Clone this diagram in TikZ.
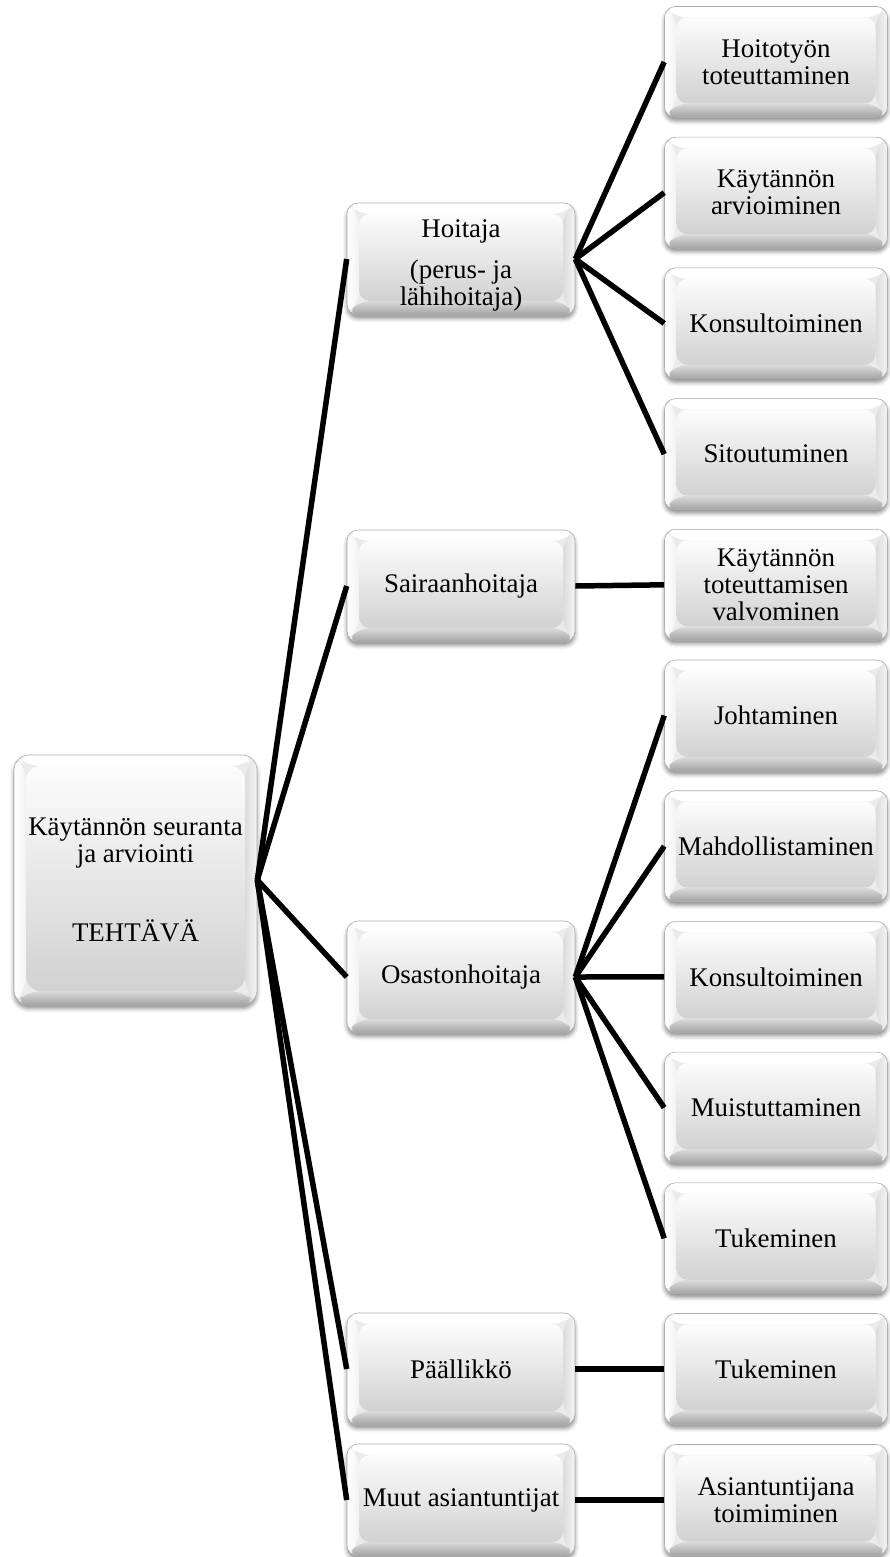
\documentclass[tikz,border=0pt]{standalone}
\usepackage{fontspec}
\setmainfont{Liberation Serif}
\usetikzlibrary{shadows.blur}

% Bevelled face drawn inside every box
\newcommand\bevelfaces{%
  \path (path picture bounding box.north west) coordinate (bNW)
        (path picture bounding box.north east) coordinate (bNE)
        (path picture bounding box.south west) coordinate (bSW)
        (path picture bounding box.south east) coordinate (bSE);
  \path ([shift={(12pt,-11pt)}]bNW) coordinate (iNW)
        ([shift={(-12pt,-11pt)}]bNE) coordinate (iNE)
        ([shift={(12pt,14pt)}]bSW) coordinate (iSW)
        ([shift={(-12pt,14pt)}]bSE) coordinate (iSE);
  \fill[white] (bNW) -- (bNE) -- (iNE) -- (iNW) -- cycle;
  \shade[left color=white, right color=black!5] (bNW) -- (iNW) -- (iSW) -- (bSW) -- cycle;
  \shade[left color=black!14, right color=black!4] (bNE) -- (bSE) -- (iSE) -- (iNE) -- cycle;
  \shade[top color=black!14, bottom color=black!36] (bSW) -- (iSW) -- (iSE) -- (bSE) -- cycle;
  \shade[top color=black!1, bottom color=black!18] (iNW) rectangle (iSE);
}

\begin{document}
\begin{tikzpicture}[x=1pt,y=-1pt,
  box/.style={rectangle, rounded corners=11pt, inner sep=2pt, align=center,
    font=\fontsize{26.9}{27}\selectfont,
    draw=black!32, line width=0.6pt, fill=black!8,
    blur shadow={shadow xshift=0pt, shadow yshift=-3.5pt,
                 shadow blur radius=4pt, shadow opacity=45},
    path picture={\bevelfaces}},
  rootbox/.style={box, rounded corners=15pt, minimum width=243pt, minimum height=250pt},
  midbox/.style={box, minimum width=228pt, minimum height=112pt},
  leafbox/.style={box, minimum width=223pt, minimum height=111pt},
  link/.style={line width=5.5pt, black},
]
\useasboundingbox (0,0) rectangle (889,1557);

% root
\node[rootbox] (root) at (135.5,880)
  {K\"ayt\"ann\"on seuranta\\ja arviointi\\[50pt]TEHT\"AV\"A};

% roles
\node[midbox] (hoitaja) at (461,259)
  {\raisebox{-7pt}[\height][\depth]{\begin{tabular}{@{}c@{}}Hoitaja\\[14pt](perus- ja\\l\"ahihoitaja)\end{tabular}}};
\node[midbox] (sairaan) at (461,586) {Sairaanhoitaja};
\node[midbox] (osaston) at (461,977) {Osastonhoitaja};
\node[midbox] (paallikko) at (461,1369) {P\"a\"allikk\"o};
\node[midbox] (muut) at (461,1500) {Muut asiantuntijat};

% tasks
\node[leafbox] (t1) at (776,62) {Hoitoty\"on\\toteuttaminen};
\node[leafbox] (t2) at (776,192.7) {K\"ayt\"ann\"on\\arvioiminen};
\node[leafbox] (t3) at (776,323.4) {Konsultoiminen};
\node[leafbox] (t4) at (776,454.1) {Sitoutuminen};
\node[leafbox] (t5) at (776,584.8) {K\"ayt\"ann\"on\\toteuttamisen\\valvominen};
\node[leafbox] (t6) at (776,715.5) {Johtaminen};
\node[leafbox] (t7) at (776,846.2) {Mahdollistaminen};
\node[leafbox] (t8) at (776,976.9) {Konsultoiminen};
\node[leafbox] (t9) at (776,1107.6) {Muistuttaminen};
\node[leafbox] (t10) at (776,1238.3) {Tukeminen};
\node[leafbox] (t11) at (776,1369) {Tukeminen};
\node[leafbox] (t12) at (776,1500) {Asiantuntijana\\toimiminen};

% connectors
\foreach \c in {hoitaja,sairaan,osaston,paallikko,muut}
  \draw[link] (root.east) -- (\c.west);
\foreach \c in {t1,t2,t3,t4}
  \draw[link] (hoitaja.east) -- (\c.west);
\draw[link] (sairaan.east) -- (t5.west);
\foreach \c in {t6,t7,t8,t9,t10}
  \draw[link] (osaston.east) -- (\c.west);
\draw[link] (paallikko.east) -- (t11.west);
\draw[link] (muut.east) -- (t12.west);
\end{tikzpicture}
\end{document}
